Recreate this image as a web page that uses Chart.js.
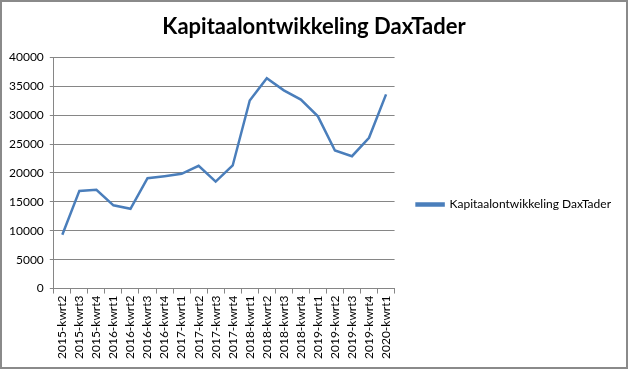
<!DOCTYPE html>
<html>
<head>
<meta charset="utf-8">
<script src="https://cdn.jsdelivr.net/npm/chart.js@4"></script>
<style>
  html, body { margin: 0; padding: 0; background: #fff; }
  #wrap { width: 628px; height: 369px; box-sizing: border-box; border: 2px solid #8a8a8a; }
  canvas { display: block; }
</style>
</head>
<body>
<div id="wrap"><canvas id="build-graph" width="624" height="365"></canvas></div>
<script>
const titel = 'Kapitaalontwikkeling DaxTader';
const kwartalen = ['2015-kwrt2', '2015-kwrt3', '2015-kwrt4', '2016-kwrt1', '2016-kwrt2', '2016-kwrt3', '2016-kwrt4',
  '2017-kwrt1', '2017-kwrt2', '2017-kwrt3', '2017-kwrt4', '2018-kwrt1', '2018-kwrt2', '2018-kwrt3', '2018-kwrt4',
  '2019-kwrt1', '2019-kwrt2', '2019-kwrt3', '2019-kwrt4', '2020-kwrt1'];
const kapitaal = [9300, 16900, 17100, 14400, 13800, 19100, 19450, 19850, 21250, 18500,
  21300, 32550, 36400, 34300, 32700, 29800, 23900, 22900, 26100, 33600];
const yTicks = [0, 5000, 10000, 15000, 20000, 25000, 30000, 35000, 40000];

const font = "Lato, 'Open Sans', sans-serif";
const blauw = '#4a7ebb';

// legenda iets lager en iets naar rechts zetten, titel weer in het midden
const legendaVerschuiven = {
    id: 'legendaVerschuiven',
    afterLayout(chart) {
        chart.legend.top += 23;
        chart.legend.bottom += 23;
        chart.legend.left += 8;
        chart.legend.right += 8;
        chart.titleBlock.left += 6;
        chart.titleBlock.right += 6;
    }
};

CreateGraph('build-graph', kwartalen, kapitaal, titel, blauw);

function CreateGraph(canva, x, y, name, color){
    let ctx = document.getElementById(canva);

    new Chart(ctx, {
        type: 'line',
        data: {
            labels: x,
            datasets: [{
                label: name,
                data: y,
                borderWidth: 2.5,
                borderColor: color,
                backgroundColor: color,
                pointRadius: 0,
                tension: 0,
            }]
        },
        options: {
            responsive: false,
            animation: false,
            layout: { padding: { left: 1, right: 13, top: 0, bottom: 6 } },
            plugins: {
                title: {
                    display: true,
                    text: name,
                    color: '#000',
                    font: { family: font, size: 22, weight: 'bold' },
                    padding: { top: 12, bottom: 17 }
                },
                legend: {
                    position: 'right',
                    maxWidth: 280,
                    labels: {
                        color: '#000',
                        font: { family: font, size: 12 },
                        boxWidth: 27,
                        boxHeight: 2,
                        padding: 14
                    }
                },
                tooltip: { enabled: false }
            },
            scales: {
                x: {
                    offset: true,
                    grid: {
                        display: true,
                        drawOnChartArea: false,
                        offset: true,
                        tickLength: 5,
                        color: '#868686'
                    },
                    border: { color: '#868686' },
                    ticks: {
                        color: '#000',
                        font: { family: font, size: 12 },
                        maxRotation: 90,
                        minRotation: 90,
                        autoSkip: false,
                        padding: 2
                    }
                },
                y: {
                    min: 0,
                    max: 40000,
                    afterBuildTicks: (axis) => { axis.ticks = yTicks.map(v => ({ value: v })); },
                    grid: { color: '#868686', tickLength: 4 },
                    border: { color: '#868686' },
                    ticks: {
                        color: '#000',
                        font: { family: font, size: 12 },
                        padding: 6,
                        callback: (v) => String(v)
                    }
                }
            }
        },
        plugins: [legendaVerschuiven]
    });
}
</script>
</body>
</html>
